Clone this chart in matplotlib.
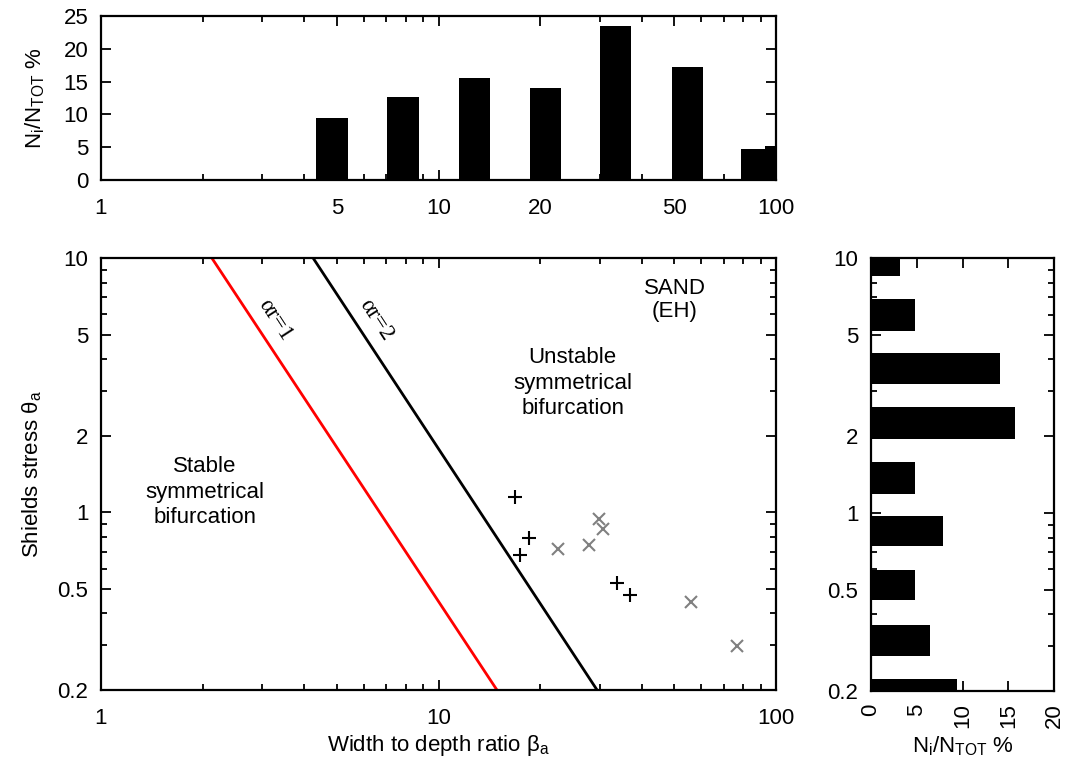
import matplotlib
matplotlib.use("Agg")
import matplotlib.pyplot as plt
from matplotlib.ticker import FixedLocator, NullFormatter, LogLocator, FixedFormatter

plt.rcParams['font.family'] = ['Liberation Sans', 'DejaVu Sans']
plt.rcParams['mathtext.fontset'] = 'custom'
plt.rcParams['mathtext.rm'] = 'Liberation Sans'
plt.rcParams['mathtext.it'] = 'Liberation Sans:italic'
plt.rcParams['font.size'] = 16

# histogram of width-to-depth ratio (top)
beta_lo = [4.33, 7.03, 11.5, 18.7, 30.0, 49.1, 78.5, 92.5]
beta_hi = [5.40, 8.73, 14.2, 23.1, 37.2, 60.8, 92.5, 110.0]
beta_pct = [9.5, 12.7, 15.5, 14.0, 23.4, 17.2, 4.7, 5.2]

# histogram of Shields stress (right)
theta_lo = [8.5, 5.19, 3.19, 1.957, 1.19, 0.739, 0.454, 0.275, 0.18]
theta_hi = [11.0, 6.93, 4.25, 2.60, 1.59, 0.973, 0.596, 0.363, 0.222]
theta_pct = [3.2, 4.8, 14.1, 15.7, 4.8, 7.9, 4.8, 6.4, 9.4]

# threshold lines (beta at theta = 10 and theta = 0.2)
line_theta = [10, 0.2]
line_r1 = [2.13, 14.9]
line_r2 = [4.25, 29.5]

# field data
plus_beta = [16.8, 18.5, 17.4, 33.9, 36.9]
plus_theta = [1.15, 0.79, 0.68, 0.528, 0.472]
cross_beta = [22.6, 28.0, 29.9, 30.8, 55.9, 76.8]
cross_theta = [0.718, 0.744, 0.939, 0.857, 0.443, 0.298]

ytick_vals = [0.2, 0.5, 1, 2, 5, 10]
ytick_txt = ['0.2', '0.5', '1', '2', '5', '10']
ytick_minor = [0.3, 0.4, 0.6, 0.7, 0.8, 0.9, 3, 4, 6, 7, 8, 9]
pct_label = r'N$_\mathrm{i}$/N$_\mathrm{TOT}$ %'

W, H = 1065, 767
fig = plt.figure(figsize=(W / 100, H / 100), dpi=100)
ax_top = fig.add_axes([101 / W, 1 - 180 / H, 675 / W, 164 / H])
ax = fig.add_axes([101 / W, 1 - 690 / H, 675 / W, 432 / H])
ax_r = fig.add_axes([871 / W, 1 - 691 / H, 183 / W, 433 / H])


def style(a):
    for s in a.spines.values():
        s.set_linewidth(1.6)
    a.tick_params(which='both', direction='in', top=True, right=True, width=1.3)
    a.tick_params(which='major', length=7, pad=9)
    a.tick_params(axis='x', which='major', pad=13)
    a.tick_params(which='minor', length=4)


# top histogram
ax_top.bar(beta_lo, beta_pct, width=[h - l for l, h in zip(beta_lo, beta_hi)],
           align='edge', color='black')
ax_top.set_xscale('log')
ax_top.set_xlim(1, 100)
ax_top.set_ylim(0, 25)
ax_top.xaxis.set_major_locator(FixedLocator([1, 5, 10, 20, 50, 100]))
ax_top.xaxis.set_major_formatter(FixedFormatter(['1', '5', '10', '20', '50', '100']))
ax_top.xaxis.set_minor_locator(LogLocator(subs=[2, 3, 4, 6, 7, 8, 9]))
ax_top.xaxis.set_minor_formatter(NullFormatter())
ax_top.set_yticks([0, 5, 10, 15, 20, 25])
ax_top.set_ylabel(pct_label, labelpad=12)
style(ax_top)

# main plot
ax.plot(line_r1, line_theta, color='red', lw=2)
ax.plot(line_r2, line_theta, color='black', lw=2)
ax.plot(plus_beta, plus_theta, '+', color='black', ms=10, mew=1.5)
ax.plot(cross_beta, cross_theta, 'x', color='#808080', ms=9, mew=1.5)
ax.set_xscale('log')
ax.set_yscale('log')
ax.set_xlim(1, 100)
ax.set_ylim(0.2, 10)
ax.xaxis.set_major_locator(FixedLocator([1, 10, 100]))
ax.xaxis.set_major_formatter(FixedFormatter(['1', '10', '100']))
ax.xaxis.set_minor_locator(LogLocator(subs=[2, 3, 4, 5, 6, 7, 8, 9]))
ax.xaxis.set_minor_formatter(NullFormatter())
ax.yaxis.set_major_locator(FixedLocator(ytick_vals))
ax.yaxis.set_major_formatter(FixedFormatter(ytick_txt))
ax.yaxis.set_minor_locator(FixedLocator(ytick_minor))
ax.yaxis.set_minor_formatter(NullFormatter())
ax.set_xlabel(r'Width to depth ratio $\mathrm{\beta_a}$', labelpad=3)
ax.set_ylabel(r'Shields stress $\mathrm{\theta_a}$', labelpad=10)
style(ax)

ax.text(2.03, 1.2, 'Stable\nsymmetrical\nbifurcation', ha='center', va='center',
        linespacing=1.3)
ax.text(25.0, 3.22, 'Unstable\nsymmetrical\nbifurcation', ha='center', va='center',
        linespacing=1.3)
ax.text(50.2, 6.84, 'SAND\n(EH)', ha='center', va='center', linespacing=1.1)
ax.text(3.28, 5.7, 'αr=1', rotation=-57, ha='center', va='center',
        family=['Liberation Serif', 'DejaVu Serif'], fontsize=17)
ax.text(6.53, 5.7, 'αr=2', rotation=-57, ha='center', va='center',
        family=['Liberation Serif', 'DejaVu Serif'], fontsize=17)

# right histogram
ax_r.barh(theta_lo, theta_pct, height=[h - l for l, h in zip(theta_lo, theta_hi)],
          align='edge', color='black')
ax_r.set_yscale('log')
ax_r.set_ylim(0.2, 10)
ax_r.set_xlim(0, 20)
ax_r.yaxis.set_major_locator(FixedLocator(ytick_vals))
ax_r.yaxis.set_major_formatter(FixedFormatter(ytick_txt))
ax_r.yaxis.set_minor_locator(FixedLocator(ytick_minor))
ax_r.yaxis.set_minor_formatter(NullFormatter())
ax_r.set_xticks([0, 5, 10, 15, 20])
ax_r.tick_params(axis='x', labelrotation=90)
style(ax_r)
ax_r.tick_params(axis='x', which='major', pad=9)
ax_r.set_xlabel(pct_label, labelpad=4)

fig.savefig('out.png', dpi=100)
